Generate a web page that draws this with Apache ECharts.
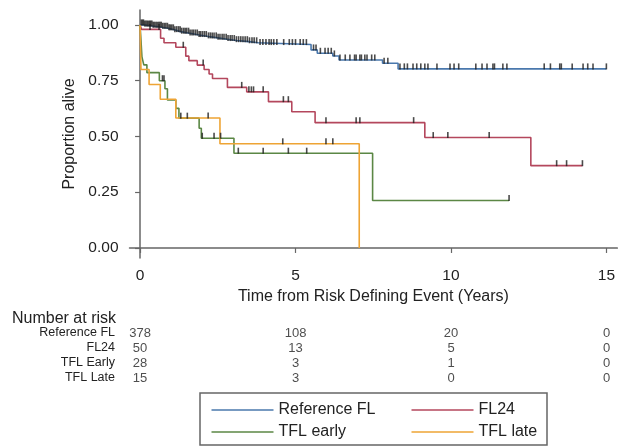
<!DOCTYPE html>
<html>
<head>
<meta charset="utf-8">
<script src="https://cdn.jsdelivr.net/npm/echarts@6/dist/echarts.min.js"></script>
<style>
  html, body { margin: 0; padding: 0; background: #fff; }
  #chart { width: 618px; height: 447px; }
</style>
</head>
<body>
<div id="chart"></div>
<script>
// survival curves: [years, proportion alive]
var refFL = [[0,1],[0.15,0.995],[0.4,0.99],[0.7,0.985],[0.9,0.978],[1.1,0.97],[1.3,0.963],[1.6,0.955],[1.9,0.948],[2.2,0.942],[2.5,0.936],[2.8,0.93],[3.1,0.925],[3.5,0.92],[3.8,0.912],[5.5,0.888],[5.7,0.873],[6.2,0.861],[6.4,0.843],[7.8,0.828],[8.3,0.803],[15.0,0.803]];
var fl24 = [[0,1],[0.05,0.98],[0.66,0.94],[0.77,0.92],[1.15,0.9],[1.47,0.86],[1.57,0.84],[1.84,0.82],[2.06,0.8],[2.22,0.78],[2.33,0.76],[2.81,0.72],[3.43,0.7],[4.13,0.656],[4.88,0.611],[5.63,0.562],[9.16,0.495],[12.57,0.369],[14.23,0.369]];
var tflEarly = [[0,1],[0.03,0.929],[0.06,0.857],[0.12,0.821],[0.22,0.786],[0.62,0.75],[0.8,0.714],[0.88,0.664],[1.15,0.626],[1.25,0.582],[1.9,0.537],[1.97,0.492],[3.02,0.425],[7.48,0.213],[11.87,0.213]];
var tflLate = [[0,1],[0.03,0.8],[0.29,0.733],[0.65,0.667],[1.15,0.583],[2.57,0.467],[7.05,0]];

// censoring times (tick marks)
var refFLCens = [0.04,0.08,0.11,0.15,0.19,0.23,0.27,0.31,0.34,0.38,0.42,0.46,0.51,0.55,0.6,0.64,0.68,0.73,0.78,0.83,0.88,0.93,0.97,1.02,1.07,1.12,1.18,1.24,1.29,1.34,1.4,1.45,1.5,1.56,1.61,1.67,1.72,1.78,1.84,1.9,1.95,2.01,2.07,2.13,2.2,2.26,2.32,2.38,2.45,2.51,2.57,2.64,2.7,2.77,2.83,2.9,2.96,3.03,3.1,3.17,3.24,3.31,3.38,3.45,3.52,3.6,3.67,3.75,3.86,3.95,4.05,4.15,4.22,4.3,4.4,4.62,4.8,4.9,5.0,5.15,5.25,5.35,5.58,5.66,5.8,5.95,6.05,6.15,6.25,6.43,6.6,6.75,6.9,6.95,7.07,7.12,7.23,7.3,7.45,7.55,7.85,7.97,8.36,8.5,8.6,8.78,8.9,9.03,9.16,9.26,9.55,9.97,10.1,10.25,10.8,11.0,11.16,11.35,11.4,11.67,11.8,13.0,13.2,13.5,13.55,13.9,14.25,14.4,14.57,15.0];
var fl24Cens = [0.32,0.61,1.39,2.03,3.27,3.5,3.58,3.65,3.96,4.61,4.77,5.98,6.95,7.07,8.8,9.43,9.9,11.23,13.4,13.72,14.23];
var tflEarlyCens = [0.72,0.77,1.31,1.52,2.0,2.38,2.59,3.16,3.96,4.77,5.36,11.87];
var tflLateCens = [2.19,4.59,5.98,6.2];

// number at risk table
var riskTimes = [0, 5, 10, 15];
var riskRows = ['Reference FL', 'FL24', 'TFL Early', 'TFL Late'];
var riskRef = [378, 108, 20, 0];
var riskFl24 = [50, 13, 5, 0];
var riskEarly = [28, 3, 1, 0];
var riskLate = [15, 3, 0, 0];

var xTicks = [0, 5, 10, 15];
var yTicks = [0, 0.25, 0.5, 0.75, 1];

var names = ['Reference FL', 'FL24', 'TFL early', 'TFL late'];
var colors = ['#4a78ad', '#b4475d', '#5b8745', '#eea434'];
var FONT = 'Liberation Sans, Arial, sans-serif';

//value of the step curve at time t
function survAt(curve, t){
	var v = curve[0][1];
	for(var i = 0; i < curve.length; i++){
		if(curve[i][0] <= t) v = curve[i][1];
	}
	return v;
}

var curves = [refFL, fl24, tflEarly, tflLate];
var cens = [refFLCens, fl24Cens, tflEarlyCens, tflLateCens];
var riskVals = [riskRef, riskFl24, riskEarly, riskLate];

var series = [];
curves.forEach(function(c, i){
	series.push({
		name: names[i],
		type: 'line',
		step: 'end',
		symbol: 'none',
		xAxisIndex: 0, yAxisIndex: 0,
		lineStyle: { color: colors[i], width: 1.6 },
		itemStyle: { color: colors[i] },
		z: 2,
		data: c
	});
});
cens.forEach(function(list, i){
	series.push({
		name: 'cens' + i,
		type: 'scatter',
		symbol: 'rect',
		symbolSize: [1.6, 6],
		symbolOffset: [0, -2.5],
		xAxisIndex: 0, yAxisIndex: 0,
		itemStyle: { color: '#1e1e1e' },
		silent: true,
		z: 3,
		data: list.map(function(t){ return [t, survAt(curves[i], t)]; })
	});
});
//risk table numbers
riskVals.forEach(function(vals, r){
	series.push({
		name: 'risk' + r,
		type: 'scatter',
		symbolSize: 0,
		xAxisIndex: 1, yAxisIndex: 1,
		label: {
			show: true,
			position: 'inside',
			formatter: function(p){ return p.value[2]; },
			fontFamily: FONT,
			fontSize: 13,
			color: '#222'
		},
		data: vals.map(function(v, k){ return [riskTimes[k], r, v]; })
	});
});

//one legend per entry so the two columns line up
var legendPos = [[206.5, 397], [406.5, 397], [206.5, 419], [406.5, 419]];
var legends = names.map(function(n, i){
	return {
		data: [n],
		left: legendPos[i][0],
		top: legendPos[i][1],
		icon: 'rect',
		itemWidth: 62,
		itemHeight: 1.6,
		textStyle: { fontFamily: FONT, fontSize: 16, color: '#222' }
	};
});

var chart = echarts.init(document.getElementById('chart'));
chart.setOption({
	backgroundColor: '#fff',
	animation: false,
	title: {
		text: 'Number at risk',
		left: 7,
		top: 306,
		textStyle: { fontFamily: FONT, fontSize: 16, fontWeight: 'normal', color: '#222' }
	},
	legend: legends,
	graphic: [{
		type: 'rect',
		shape: { x: 200, y: 393, width: 347, height: 52 },
		style: { fill: 'none', stroke: '#666', lineWidth: 1.5 }
	}],
	grid: [
		{ left: 129.5, top: 10, width: 488, height: 248 },
		{ left: 129.5, top: 325.5, width: 488, height: 60 }
	],
	xAxis: [{
		type: 'value',
		gridIndex: 0,
		min: -0.34,
		max: 15.35,
		name: 'Time from Risk Defining Event (Years)',
		nameLocation: 'middle',
		nameGap: 31,
		nameTextStyle: { fontFamily: FONT, fontSize: 16, color: '#222' },
		axisLine: { show: true, lineStyle: { color: '#666', width: 1.5 } },
		axisTick: { show: true, length: 5, customValues: xTicks, lineStyle: { color: '#666', width: 1.2 } },
		axisLabel: { customValues: xTicks, margin: 10, fontFamily: FONT, fontSize: 15.5, color: '#222' },
		splitLine: { show: false }
	}, {
		type: 'value',
		gridIndex: 1,
		min: -0.34,
		max: 15.35,
		show: false
	}],
	yAxis: [{
		type: 'value',
		gridIndex: 0,
		min: -0.045,
		max: 1.067,
		name: 'Proportion alive',
		nameLocation: 'middle',
		nameGap: 47,
		nameTextStyle: { fontFamily: FONT, fontSize: 16, color: '#222' },
		axisLine: { show: true, lineStyle: { color: '#666', width: 1.5 } },
		axisTick: { show: true, length: 5, customValues: yTicks, lineStyle: { color: '#666', width: 1.2 } },
		axisLabel: {
			customValues: yTicks,
			margin: 11,
			fontFamily: FONT, fontSize: 15.5, color: '#222',
			formatter: function(v){ return v.toFixed(2); }
		},
		splitLine: { show: false }
	}, {
		type: 'category',
		gridIndex: 1,
		inverse: true,
		data: riskRows,
		axisLine: { show: false },
		axisTick: { show: false },
		axisLabel: { interval: 0, margin: 14.5, fontFamily: FONT, fontSize: 12.5, color: '#222' },
		splitLine: { show: false }
	}],
	series: series
});
</script>
</body>
</html>
